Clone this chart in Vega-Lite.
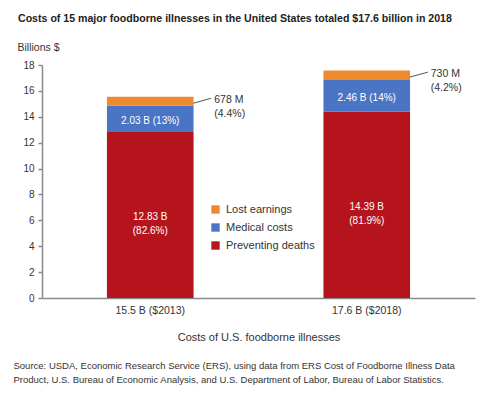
{
  "$schema": "https://vega.github.io/schema/vega-lite/v6.json",
  "width": 433,
  "height": 233,
  "autosize": "none",
  "padding": {"left": 42, "top": 65, "right": 25, "bottom": 99},
  "background": "white",
  "config": {
    "font": "Liberation Sans",
    "view": {"stroke": null}
  },
  "title": {
    "text": "Costs of 15 major foodborne illnesses in the United States totaled $17.6 billion in 2018",
    "anchor": "start",
    "frame": "group",
    "dx": -24,
    "fontSize": 10.6,
    "fontWeight": "bold",
    "color": "#222222",
    "offset": 17
  },
  "data": {
    "values": [
      {"year": "15.5 B ($2013)", "type": "Preventing deaths", "value": 12.83, "label": ["12.83 B", "(82.6%)"]},
      {"year": "15.5 B ($2013)", "type": "Medical costs", "value": 2.03, "label": ["2.03 B (13%)"]},
      {"year": "15.5 B ($2013)", "type": "Lost earnings", "value": 0.678, "label": ["678 M", "(4.4%)"]},
      {"year": "17.6 B ($2018)", "type": "Preventing deaths", "value": 14.39, "label": ["14.39 B", "(81.9%)"]},
      {"year": "17.6 B ($2018)", "type": "Medical costs", "value": 2.46, "label": ["2.46 B (14%)"]},
      {"year": "17.6 B ($2018)", "type": "Lost earnings", "value": 0.73, "label": ["730 M", "(4.2%)"]}
    ]
  },
  "transform": [
    {"stack": "value", "groupby": ["year"], "sort": [{"field": "type", "order": "descending"}], "as": ["y0", "y1"]},
    {"calculate": "(datum.y0 + datum.y1) / 2", "as": "mid"}
  ],
  "resolve": {"axis": {"x": "independent", "y": "independent"}},
  "layer": [
    {
      "mark": {"type": "bar"},
      "encoding": {
        "x": {
          "field": "year", "type": "nominal",
          "scale": {"paddingInner": 0.6, "paddingOuter": 0.3},
          "axis": {
            "title": "Costs of U.S. foodborne illnesses",
            "labelAngle": 0, "ticks": false, "domainColor": "#8a8a8a", "domainWidth": 1.5,
            "labelFontSize": 10.5, "labelColor": "#333333", "labelPadding": 7,
            "titleFontSize": 11, "titleColor": "#333333", "titleFontWeight": "normal", "titlePadding": 16
          }
        },
        "y": {
          "field": "y0", "type": "quantitative",
          "scale": {"domain": [0, 18], "nice": false},
          "axis": {
            "orient": "left",
            "values": [0, 2, 4, 6, 8, 10, 12, 14, 16, 18],
            "labelOverlap": false,
            "grid": false, "domainColor": "#8a8a8a", "domainWidth": 1.5,
            "tickColor": "#8a8a8a", "tickSize": 4, "tickWidth": 1.5,
            "labelFontSize": 10, "labelColor": "#333333", "labelPadding": 4,
            "title": "Billions $", "titleAngle": 0, "titleAlign": "left", "titleBaseline": "middle",
            "titleX": -25, "titleY": -18, "titleFontSize": 10.5, "titleFontWeight": "normal", "titleColor": "#333333"
          }
        },
        "y2": {"field": "y1"},
        "color": {
          "field": "type", "type": "nominal",
          "scale": {"domain": ["Lost earnings", "Medical costs", "Preventing deaths"], "range": ["#EE8A2E", "#4A75C4", "#B5141C"]},
          "legend": {
            "title": null, "orient": "none", "legendX": 168, "legendY": 139,
            "symbolType": "square", "symbolSize": 70, "symbolStrokeWidth": 0,
            "labelFontSize": 11, "labelColor": "#333333", "labelOffset": 5, "rowPadding": 6, "padding": 0
          }
        }
      }
    },
    {
      "transform": [{"filter": "datum.type !== 'Lost earnings'"}],
      "mark": {"type": "text", "color": "#ffffff", "fontSize": 10, "baseline": "middle", "lineHeight": 14, "dy": 2},
      "encoding": {
        "x": {
          "field": "year", "type": "nominal",
          "axis": {
            "orient": "bottom", "labels": false, "ticks": false, "domain": false,
            "title": ["Source: USDA, Economic Research Service (ERS), using data from ERS Cost of Foodborne Illness Data", "Product, U.S. Bureau of Economic Analysis, and U.S. Department of Labor, Bureau of Labor Statistics."],
            "titleAnchor": "start", "titleAlign": "left", "titleBaseline": "top",
            "titleX": -29, "titleY": 62, "titleFontSize": 9.5, "titleFontWeight": "normal", "titleColor": "#333333", "titleLineHeight": 14
          }
        },
        "y": {"field": "mid", "type": "quantitative", "axis": null},
        "text": {"field": "label"}
      }
    },
    {
      "transform": [{"filter": "datum.type === 'Lost earnings'"}],
      "mark": {"type": "text", "color": "#333333", "fontSize": 10.5, "baseline": "middle", "align": "left", "dx": 64, "dy": -1, "lineHeight": 14},
      "encoding": {
        "x": {"field": "year", "type": "nominal", "axis": null},
        "y": {"field": "mid", "type": "quantitative", "axis": null},
        "text": {"field": "label"}
      }
    },
    {
      "transform": [{"filter": "datum.type === 'Lost earnings'"}],
      "mark": {"type": "rule", "color": "#555555", "strokeWidth": 1, "xOffset": 43, "x2Offset": 61, "yOffset": 2, "y2Offset": -3},
      "encoding": {
        "x": {"field": "year", "type": "nominal", "axis": null},
        "x2": {"field": "year"},
        "y": {"field": "mid", "type": "quantitative", "axis": null},
        "y2": {"field": "mid"}
      }
    }
  ]
}
